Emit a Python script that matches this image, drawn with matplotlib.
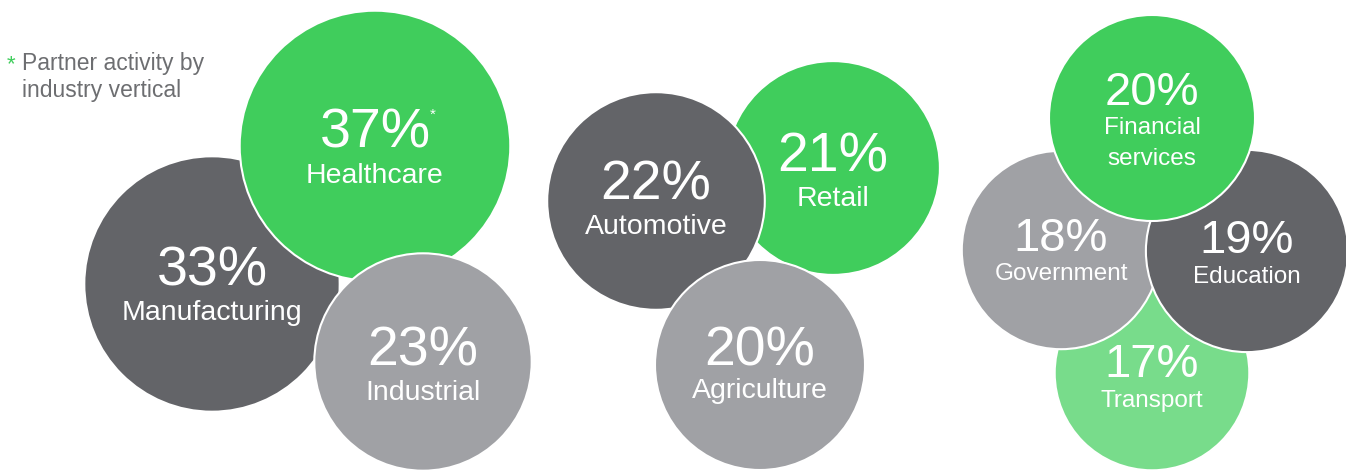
import matplotlib
matplotlib.use("Agg")
import matplotlib.pyplot as plt
from matplotlib.patches import Circle

plt.rcParams['font.family'] = ['Liberation Sans', 'DejaVu Sans']

# ---- data ----
industries = ["Manufacturing", "Healthcare", "Industrial",
              "Retail", "Automotive", "Agriculture",
              "Transport", "Government", "Education", "Financial\nservices"]
shares = [33, 37, 23, 21, 22, 20, 17, 18, 19, 20]
footnote = "Partner activity by\nindustry vertical"

# ---- layout (pixel space, y down) ----
centers = [(212, 284), (375, 146), (423, 362),
           (833, 168), (656, 201), (760, 365),
           (1152, 373), (1061, 250), (1247, 251), (1152, 118)]
pct_baseline = [285, 148, 365, 171, 199, 365, 377, 251, 253, 105]
lab_baseline = [320, 183, 400, 206, 234, 398, 407, 280, 283, 134]
group = [0, 0, 0, 1, 1, 1, 2, 2, 2, 2]

GREEN = "#40CD5C"
LGREEN = "#78DC8B"
DARK = "#636468"
LGRAY = "#A0A1A5"
colors = [DARK, GREEN, LGRAY, GREEN, DARK, LGRAY, LGREEN, LGRAY, DARK, GREEN]

W, H = 1346, 471
fig = plt.figure(figsize=(W / 100, H / 100), dpi=100)
ax = fig.add_axes([0, 0, 1, 1])
ax.set_xlim(0, W)
ax.set_ylim(H, 0)
ax.axis("off")

def radius(v, g):
    return (65 if g == 0 else 67 if g == 1 else 65) + 1.9 * v

for i, (name, v) in enumerate(zip(industries, shares)):
    cx, cy = centers[i]
    r = radius(v, group[i])
    ax.add_patch(Circle((cx, cy), r, facecolor=colors[i], edgecolor="white",
                        linewidth=1.5, zorder=2 * i + 1))
    big = 40 if group[i] < 2 else 34
    small = 20.5 if group[i] < 2 else 17.5
    ax.text(cx, pct_baseline[i], f"{v}%", color="white", fontsize=big,
            ha="center", va="baseline", zorder=2 * i + 2)
    for k, line in enumerate(name.split("\n")):
        ax.text(cx, lab_baseline[i] + k * 31, line, color="white", fontsize=small,
                ha="center", va="baseline", zorder=2 * i + 2)
    if name == "Healthcare":
        ax.text(cx + 55, pct_baseline[i] - 29, "*", color="white", fontsize=11,
                ha="left", va="baseline", zorder=2 * i + 2)

ax.text(7, 70, "*", color=GREEN, fontsize=16, ha="left", va="baseline")
for k, line in enumerate(footnote.split("\n")):
    ax.text(22, 70 + k * 27, line, color="#6D6E71", fontsize=16.5,
            ha="left", va="baseline")

fig.savefig("out.png", dpi=100)
